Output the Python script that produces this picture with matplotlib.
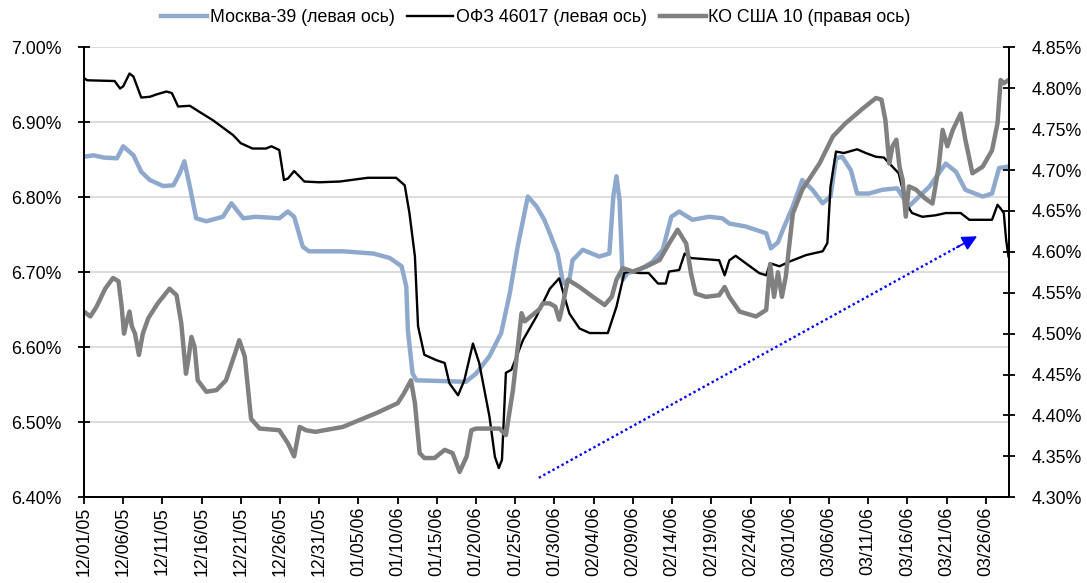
import datetime as dt
import matplotlib
matplotlib.use("Agg")
import matplotlib.pyplot as plt
import numpy as np
from matplotlib.ticker import FuncFormatter, MultipleLocator

plt.rcParams["font.family"] = ["Liberation Sans", "DejaVu Sans"]

start = dt.date(2005, 12, 1)

# days since 12/01/05 and yields, %
moscow_days = [0, 1.2, 2.5, 4.2, 5.0, 6.3, 7.3, 8.4, 10.1, 11.4, 12.2, 12.8, 13.5, 14.3, 15.6,
               17.7, 18.8, 20.3, 21.9, 24.9, 26.0, 26.8, 27.9, 28.7, 33.0, 36.9, 39.0, 40.5,
               41.1, 41.3, 41.9, 42.4, 48.7, 50.0, 51.7, 53.2, 54.3, 55.3, 56.6, 57.7, 58.7,
               59.4, 60.4, 61.1, 61.9, 62.3, 63.6, 65.7, 67.0, 67.5, 67.9, 68.3, 68.7, 69.3,
               70.8, 72.5, 73.8, 74.9, 75.9, 77.6, 79.7, 81.4, 82.3, 84.4, 87.0, 87.6, 88.5,
               89.1, 90.4, 91.6, 92.9, 94.2, 95.2, 95.9, 96.7, 97.8, 98.6, 100.1, 101.8, 103.7,
               105.2, 106.1, 107.8, 109.9, 111.2, 112.4, 114.6, 115.8, 116.7, 117.9]
moscow_vals = [6.854, 6.856, 6.853, 6.852, 6.868, 6.856, 6.834, 6.823, 6.815, 6.816, 6.832, 6.848,
               6.814, 6.772, 6.768, 6.774, 6.792, 6.772, 6.774, 6.772, 6.781, 6.774, 6.734, 6.728,
               6.728, 6.725, 6.719, 6.708, 6.681, 6.623, 6.565, 6.556, 6.554, 6.565, 6.588, 6.619,
               6.672, 6.734, 6.801, 6.788, 6.770, 6.752, 6.725, 6.685, 6.690, 6.716, 6.730, 6.721,
               6.725, 6.801, 6.828, 6.796, 6.690, 6.699, 6.703, 6.714, 6.730, 6.774, 6.781, 6.770,
               6.774, 6.772, 6.765, 6.761, 6.752, 6.732, 6.740, 6.756, 6.788, 6.823, 6.810, 6.792,
               6.801, 6.852, 6.854, 6.836, 6.805, 6.805, 6.810, 6.812, 6.788, 6.797, 6.814, 6.845,
               6.834, 6.810, 6.801, 6.805, 6.839, 6.841]

ofz_days = [0, 0.4, 3.9, 4.6, 5.0, 5.8, 6.3, 7.3, 8.4, 9.2, 10.5, 11.2, 12.0, 13.5, 14.7, 16.4,
            17.7, 19.0, 20.0, 21.5, 23.2, 23.9, 24.9, 25.5, 26.0, 26.8, 28.1, 30.0, 32.6, 36.2,
            39.8, 40.9, 41.5, 42.2, 42.6, 43.4, 44.9, 46.0, 46.6, 47.7, 48.5, 49.6, 50.4, 51.7,
            52.4, 52.9, 53.3, 53.8, 54.5, 56.0, 57.7, 58.1, 59.4, 60.6, 61.5, 61.9, 63.2, 64.5,
            66.8, 67.9, 68.9, 69.6, 70.8, 72.0, 73.2, 74.2, 74.6, 75.9, 76.6, 77.4, 81.0, 81.7,
            82.3, 83.1, 84.4, 86.1, 87.0, 87.5, 88.7, 89.9, 92.1, 94.2, 94.8, 95.2, 95.9, 96.9,
            98.6, 99.7, 101.0, 102.0, 103.9, 104.8, 105.6, 106.9, 108.6, 109.9, 111.8, 112.9,
            115.8, 116.5, 116.9, 117.3, 117.6, 117.9]
ofz_vals = [6.959, 6.956, 6.955, 6.945, 6.948, 6.965, 6.961, 6.933, 6.934, 6.937, 6.941, 6.939,
            6.921, 6.922, 6.914, 6.903, 6.893, 6.883, 6.872, 6.865, 6.865, 6.868, 6.863, 6.823,
            6.825, 6.835, 6.821, 6.820, 6.821, 6.826, 6.826, 6.816, 6.779, 6.721, 6.628, 6.590,
            6.583, 6.579, 6.552, 6.536, 6.556, 6.605, 6.579, 6.508, 6.454, 6.439, 6.450, 6.566,
            6.570, 6.610, 6.641, 6.650, 6.678, 6.692, 6.659, 6.645, 6.625, 6.619, 6.619, 6.654,
            6.699, 6.701, 6.699, 6.699, 6.685, 6.685, 6.701, 6.703, 6.725, 6.719, 6.716, 6.696,
            6.716, 6.722, 6.712, 6.699, 6.696, 6.712, 6.708, 6.714, 6.723, 6.728, 6.739, 6.814,
            6.861, 6.859, 6.864, 6.859, 6.854, 6.853, 6.832, 6.792, 6.779, 6.774, 6.776, 6.779,
            6.779, 6.770, 6.770, 6.790, 6.785, 6.779, 6.743, 6.721]

ust_days = [0, 0.8, 1.6, 2.7, 3.7, 4.4, 4.8, 5.1, 5.4, 5.8, 6.1, 6.5, 7.0, 7.5, 8.2, 9.4, 10.9,
            11.8, 12.4, 13.0, 13.3, 13.7, 14.1, 14.5, 15.6, 16.9, 18.1, 19.4, 19.8, 20.5, 21.3,
            22.4, 24.9, 26.0, 26.8, 27.5, 28.3, 29.5, 33.0, 37.3, 40.0, 40.8, 41.7, 42.2, 42.8,
            43.4, 44.7, 46.0, 47.0, 47.9, 48.8, 49.4, 50.0, 53.0, 53.8, 54.7, 55.8, 56.2, 58.1,
            58.5, 59.4, 60.1, 60.6, 61.0, 61.7, 63.2, 64.9, 66.4, 67.3, 67.9, 68.7, 70.0, 71.7,
            73.4, 74.6, 75.7, 76.8, 77.4, 78.0, 79.3, 81.0, 81.7, 82.3, 83.6, 85.7, 87.0, 87.5,
            88.0, 88.5, 89.0, 89.5, 90.4, 91.6, 93.8, 95.5, 97.1, 99.3, 101.0, 101.7, 102.2,
            102.7, 103.1, 103.6, 104.0, 104.4, 104.8, 105.2, 106.1, 107.3, 108.2, 109.0, 109.5,
            110.1, 110.8, 111.8, 112.4, 113.3, 114.6, 115.8, 116.5, 116.9, 117.3, 117.9]
ust_vals = [4.527, 4.521, 4.533, 4.555, 4.568, 4.564, 4.533, 4.500, 4.513, 4.527, 4.509, 4.500,
            4.474, 4.500, 4.519, 4.537, 4.555, 4.547, 4.513, 4.451, 4.468, 4.496, 4.484, 4.443,
            4.429, 4.431, 4.443, 4.480, 4.492, 4.472, 4.396, 4.384, 4.382, 4.366, 4.350, 4.386,
            4.382, 4.380, 4.386, 4.403, 4.415, 4.427, 4.443, 4.415, 4.354, 4.348, 4.348, 4.358,
            4.354, 4.331, 4.350, 4.382, 4.384, 4.384, 4.376, 4.431, 4.525, 4.515, 4.530, 4.537,
            4.537, 4.533, 4.517, 4.533, 4.566, 4.557, 4.545, 4.535, 4.545, 4.566, 4.580, 4.576,
            4.582, 4.590, 4.610, 4.627, 4.610, 4.574, 4.549, 4.545, 4.547, 4.557, 4.545, 4.527,
            4.521, 4.529, 4.585, 4.545, 4.575, 4.545, 4.570, 4.647, 4.676, 4.708, 4.741, 4.757,
            4.775, 4.788, 4.786, 4.761, 4.708, 4.729, 4.737, 4.704, 4.688, 4.643, 4.680, 4.676,
            4.665, 4.659, 4.704, 4.749, 4.729, 4.749, 4.769, 4.737, 4.696, 4.704, 4.724, 4.757,
            4.810, 4.806, 4.810]

# trend arrow (days, left-axis %)
arrow_start = (58.0, 6.426)
arrow_end = (113.9, 6.748)

tick_days = np.arange(0, 116, 5)
tick_labels = [(start + dt.timedelta(days=int(d))).strftime("%m/%d/%y") for d in tick_days]

fs = 12.8

fig = plt.figure(figsize=(10.87, 5.83), dpi=100)
ax = fig.add_axes([0.0773, 0.147, 0.9285 - 0.0773, 0.9189 - 0.147])
ax2 = ax.twinx()

l1, = ax.plot(moscow_days, moscow_vals, color="#8FA9CD", lw=3.2, solid_joinstyle="round",
              label="Москва-39 (левая ось)")
l2, = ax.plot(ofz_days, ofz_vals, color="black", lw=1.7, label="ОФЗ 46017 (левая ось)")
l3, = ax2.plot(ust_days, ust_vals, color="#808080", lw=3.2, solid_joinstyle="round",
               label="КО США 10 (правая ось)")

ax.plot([arrow_start[0], arrow_end[0] - 2.2], [arrow_start[1], arrow_end[1] - 0.0125],
        color="#0000FF", lw=1.7, ls=(0, (1, 1.2)))
ax.annotate("", xy=arrow_end, xytext=(arrow_end[0] - 2.6, arrow_end[1] - 0.0148),
            arrowprops=dict(arrowstyle="-|>,head_length=0.9,head_width=0.45",
                            color="#0000FF", lw=1.2, shrinkA=0, shrinkB=0))

ax.set_xlim(0, 118)
ax.set_ylim(6.40, 7.00)
ax2.set_ylim(4.30, 4.85)
ax.yaxis.set_major_locator(MultipleLocator(0.1))
ax2.yaxis.set_major_locator(MultipleLocator(0.05))
ax.yaxis.set_major_formatter(FuncFormatter(lambda v, p: f"{v:.2f}%"))
ax2.yaxis.set_major_formatter(FuncFormatter(lambda v, p: f"{v:.2f}%"))
ax.set_xticks(tick_days)
ax.set_xticklabels(tick_labels, rotation=90)

ax.yaxis.grid(True, color="#DADADA", lw=1.3)
ax.set_axisbelow(True)
for a in (ax, ax2):
    a.spines["top"].set_visible(False)
    for s in ("left", "right", "bottom"):
        a.spines[s].set_linewidth(1.3)
ax.tick_params(axis="y", direction="inout", length=8, width=1.3, labelsize=fs, pad=12)
ax2.tick_params(axis="y", direction="inout", length=8, width=1.3, labelsize=fs, pad=12)
ax.tick_params(axis="x", direction="out", length=5, width=1.3, labelsize=fs, pad=2)

fig.legend(handles=[l1, l2, l3], loc="upper center", bbox_to_anchor=(0.493, 1.012), ncol=3,
           frameon=False, fontsize=fs, handlelength=2.6, handletextpad=0.15, columnspacing=0.7)

fig.savefig("out.png", dpi=100)
